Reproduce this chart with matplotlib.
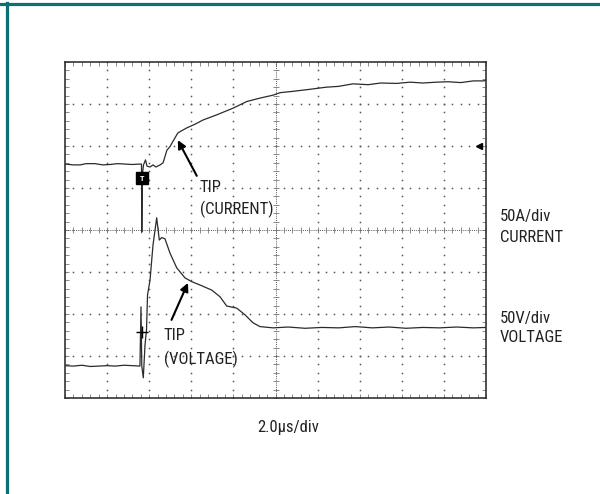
import numpy as np
import matplotlib
matplotlib.use('Agg')
from matplotlib import pyplot as plt
from matplotlib.lines import Line2D
from matplotlib.ticker import MultipleLocator
from matplotlib import font_manager

# scope traces, in divisions (x: 0..10, y: 0..8 from bottom)
cur_x = [0.0, 0.2, 0.36, 0.5, 0.71, 0.9, 1.07, 1.25, 1.42, 1.6, 1.78, 1.817, 1.824, 1.836, 1.865, 1.912,
         1.948, 2.02, 2.09, 2.16, 2.26, 2.33, 2.42, 2.49, 2.61, 2.68, 2.73, 2.89, 3.09, 3.28, 3.6, 3.99,
         4.32, 4.63, 4.94, 5.11, 5.4, 5.82, 6.2, 6.5, 6.84, 7.2, 7.5, 7.88, 8.2, 8.5, 8.83, 9.1, 9.4,
         9.7, 9.93, 10.0]
cur_y = [5.57, 5.55, 5.55, 5.58, 5.58, 5.55, 5.56, 5.58, 5.57, 5.56, 5.57, 5.57, 3.95, 5.31, 5.55, 5.67,
         5.52, 5.50, 5.55, 5.50, 5.55, 5.60, 5.90, 5.98, 6.19, 6.31, 6.34, 6.43, 6.52, 6.62, 6.74, 6.90,
         7.06, 7.14, 7.21, 7.27, 7.30, 7.35, 7.40, 7.42, 7.48, 7.46, 7.50, 7.49, 7.52, 7.50, 7.52, 7.53,
         7.51, 7.55, 7.55, 7.56]

volt_x = [0.0, 0.2, 0.4, 0.6, 0.8, 1.0, 1.2, 1.4, 1.6, 1.78, 1.805, 1.824, 1.86, 1.90, 1.936, 1.96,
          2.02, 2.09, 2.178, 2.24, 2.297, 2.375, 2.494, 2.653, 2.85, 3.01, 3.207, 3.485, 3.682, 3.841,
          4.078, 4.276, 4.466, 4.632, 4.941, 5.3, 5.7, 6.1, 6.5, 6.9, 7.3, 7.7, 8.1, 8.5, 8.9, 9.3,
          9.7, 10.0]
volt_y = [0.77, 0.76, 0.78, 0.75, 0.76, 0.77, 0.76, 0.78, 0.77, 0.76, 2.17, 0.76, 0.48, 1.26, 1.62, 2.45,
          2.81, 3.64, 4.29, 3.76, 3.82, 3.79, 3.45, 3.10, 2.86, 2.77, 2.69, 2.57, 2.41, 2.19,
          2.14, 1.98, 1.79, 1.70, 1.67, 1.69, 1.66, 1.68, 1.67, 1.70, 1.67, 1.69, 1.66, 1.68, 1.67, 1.69,
          1.67, 1.68]

trig = (1.82, 5.23)      # trigger marker
gnd = (1.82, 1.56)       # voltage ground marker
level = (9.83, 6.0)      # trigger level marker

labels_right = ['50A/div', 'CURRENT', '50V/div', 'VOLTAGE']
label_x = '2.0\u00b5s/div'

TEAL = '#0b6f75'
TRACE = '#2b2b2b'
FS = 12

# pick a narrow face if one is around
names = set(f.name for f in font_manager.fontManager.ttflist)
FONT = [n for n in ['Liberation Sans Narrow', 'DejaVu Sans Condensed', 'Roboto Condensed',
	'Roboto', 'Liberation Sans'] if n in names][:1] + ['DejaVu Sans']


def main():
	fig = plt.figure(figsize=(6, 4.94), dpi=100)
	ax = fig.add_axes([65/600, 1-398/494, 421/600, 336/494])
	ax.set_xlim(0, 10)
	ax.set_ylim(0, 8)

	# graticule
	fine = np.arange(0, 10.01, 0.2)
	fine_y = np.arange(0, 8.01, 0.2)
	for gx in range(1, 10):
		if gx == 5:
			continue
		ax.plot([gx]*len(fine_y), fine_y, ls='', marker='s', ms=1.1, color='#555555', mew=0)
	for gy in range(1, 8):
		if gy == 4:
			continue
		ax.plot(fine, [gy]*len(fine), ls='', marker='s', ms=1.1, color='#555555', mew=0)
	ax.axhline(4, color='#555555', lw=0.7, ls=(0, (1, 1.2)))
	ax.axvline(5, color='#555555', lw=0.7, ls=(0, (1, 1.2)))
	ax.plot(fine, [4]*len(fine), ls='', marker='|', ms=4, mew=0.6, color='#777777')
	ax.plot([5]*len(fine_y), fine_y, ls='', marker='_', ms=4, mew=0.6, color='#777777')

	ax.xaxis.set_major_locator(MultipleLocator(1))
	ax.yaxis.set_major_locator(MultipleLocator(1))
	ax.xaxis.set_minor_locator(MultipleLocator(0.2))
	ax.yaxis.set_minor_locator(MultipleLocator(0.2))
	ax.tick_params(which='both', direction='in', top=True, right=True, length=3,
		width=0.6, color='#777777', labelbottom=False, labelleft=False)
	for s in ax.spines.values():
		s.set_color('#333333')
		s.set_linewidth(1.2)

	# traces
	ax.plot(cur_x, cur_y, color=TRACE, lw=0.9)
	ax.plot(volt_x, volt_y, color=TRACE, lw=0.9)

	# markers
	ax.plot(*trig, marker='s', ms=8, color='black')
	ax.text(trig[0], trig[1], 'T', color='white', fontsize=6, fontweight='bold',
		ha='center', va='center', family=FONT)
	ax.plot(*gnd, marker='+', ms=8, mew=1.0, color='black')
	ax.plot(*level, marker='<', ms=5, color='black')

	# callouts
	arrow = dict(arrowstyle='-|>', lw=1.5, color='black', mutation_scale=12, shrinkA=0, shrinkB=0)
	ax.annotate('', xy=(2.68, 6.14), xytext=(3.13, 5.29), arrowprops=arrow)
	ax.annotate('', xy=(2.92, 2.74), xytext=(2.53, 1.86), arrowprops=arrow)
	ax.text(3.2, 5.02, 'TIP', fontsize=FS, family=FONT, va='center', ha='left', color='#222222')
	ax.text(3.2, 4.48, '(CURRENT)', fontsize=FS, family=FONT, va='center', ha='left', color='#222222')
	ax.text(2.34, 1.50, 'TIP', fontsize=FS, family=FONT, va='center', ha='left', color='#222222')
	ax.text(2.34, 0.91, '(VOLTAGE)', fontsize=FS, family=FONT, va='center', ha='left', color='#222222')

	for lab, py in zip(labels_right, [216, 237, 318, 337]):
		fig.text(500/600, 1-py/494, lab, fontsize=FS, family=FONT, va='center',
			ha='left', color='#222222')
	fig.text(288/600, 1-427/494, label_x, fontsize=FS, family=FONT, va='center',
		ha='center', color='#222222')

	# page frame (top and left only)
	fig.add_artist(Line2D([0, 1], [1-4.5/494, 1-4.5/494], color=TEAL, lw=2.3,
		transform=fig.transFigure))
	fig.add_artist(Line2D([7/600, 7/600], [0, 1-3/494], color=TEAL, lw=2.3,
		transform=fig.transFigure))

	fig.savefig('out.png', dpi=100)


if __name__ == "__main__":
	main()
